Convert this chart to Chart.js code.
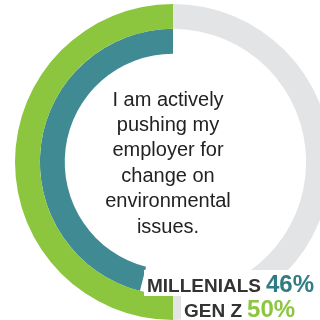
<!DOCTYPE html>
<html>
<head>
<meta charset="utf-8">
<script src="https://cdn.jsdelivr.net/npm/chart.js@4/dist/chart.umd.min.js"></script>
<style>
  html, body { margin: 0; padding: 0; background: #fff; overflow: hidden; width: 320px; height: 320px; }
  #wrap { position: absolute; left: 0; top: 0; width: 346px; height: 324px; }
</style>
</head>
<body>
<div id="wrap"><canvas id="ringChart" width="346" height="324"></canvas></div>
<script>
const groups = ['MILLENIALS', 'GEN Z'];
const shares = [46, 50];
const questionLines = ['I am actively', 'pushing my', 'employer for', 'change on', 'environmental', 'issues.'];

const teal = '#408b93';
const lime = '#8cc63f';
const track = '#e3e4e6';

// draws the question in the hole and the two value labels at the bottom right
const textPlugin = {
    id: 'ringText',
    afterDraw(chart) 
    {
        const ctx = chart.ctx;
        ctx.save();

        ctx.fillStyle = '#222';
        ctx.font = '20px "Liberation Sans", Arial, sans-serif';
        ctx.textAlign = 'center';
        ctx.textBaseline = 'middle';
        questionLines.forEach((line, i) => {
            ctx.fillText(line, 168, 100 + i * 25.4);
        });

        const rows = [
            { label: groups[0], value: shares[0], color: '#2f7c82', x: 147, y: 292 },
            { label: groups[1], value: shares[1], color: lime, x: 184, y: 317 }
        ];

        ctx.textAlign = 'left';
        ctx.textBaseline = 'alphabetic';
        rows.forEach((row, i) => {
            ctx.font = 'bold 19px "Liberation Sans", Arial, sans-serif';
            const lw = ctx.measureText(row.label).width;
            ctx.font = 'bold 24px "Liberation Sans", Arial, sans-serif';
            const vw = ctx.measureText(row.value + '%').width;

            ctx.fillStyle = '#fff';
            ctx.fillRect(row.x - 3, row.y - 22, lw + vw + 12, 26);

            ctx.fillStyle = '#333';
            ctx.font = 'bold 19px "Liberation Sans", Arial, sans-serif';
            ctx.fillText(row.label, row.x, row.y);
            ctx.fillStyle = row.color;
            ctx.font = 'bold 24px "Liberation Sans", Arial, sans-serif';
            ctx.fillText(row.value + '%', row.x + lw + 5, row.y);
        });

        ctx.restore();
    }
};

new Chart(document.getElementById('ringChart'), {
    type: 'doughnut',
    data: {
        labels: ['rest', 'share'],
        datasets: [
            {
                label: groups[1],
                data: [100 - shares[1], shares[1]],
                backgroundColor: [track, lime]
            },
            {
                label: groups[0],
                data: [100 - shares[0], shares[0]],
                backgroundColor: ['rgba(0,0,0,0)', teal]
            }
        ]
    },
    options: {
        responsive: false,
        animation: false,
        radius: 158,
        cutout: 111,
        borderWidth: 0,
        hoverOffset: 0,
        layout: { padding: 0 },
        plugins: {
            legend: { display: false },
            tooltip: { enabled: false }
        }
    },
    plugins: [textPlugin]
});
</script>
</body>
</html>
